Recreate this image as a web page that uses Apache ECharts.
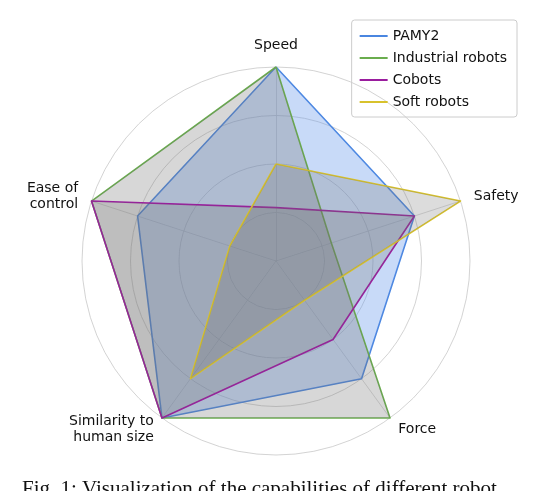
<!DOCTYPE html><html><head><meta charset="utf-8">
<script src="https://cdn.jsdelivr.net/npm/echarts@6/dist/echarts.min.js"></script>
<style>html,body{margin:0;padding:0;background:#fff}#c{width:544px;height:491px}</style></head><body><div id="c"></div>
<script>
const axes = ['Speed','Ease of\ncontrol','Similarity to\nhuman size','Force','Safety'];
const seriesNames = ['PAMY2','Industrial robots','Cobots','Soft robots'];
const pamy2 = [4,3,4,3,3];
const industrial = [4,4,4,4,1.2];
const cobots = [1.1,4,4,2,3];
const soft = [2,1,3,1,4];
const colors = ['#4a86e0','#6aad4e','#9a1d9e','#d8c22c'];
const fills = ['rgba(100,150,235,0.5)','rgba(110,110,110,0.4)','rgba(110,110,110,0.35)','rgba(110,110,110,0.35)'];
const vals = [pamy2, industrial, cobots, soft];
const chart = echarts.init(document.getElementById('c'));
chart.setOption({
  animation:false,
  legend:{orient:'vertical',right:27,top:20,itemWidth:28,itemHeight:2,icon:'rect',itemGap:8,
    padding:[9,10,8,8],borderColor:'#ccc',borderWidth:1,borderRadius:3,
    textStyle:{fontFamily:'DejaVu Sans',fontSize:14,color:'#111'},data:seriesNames},
  radar:{center:[276,261],radius:194,startAngle:90,splitNumber:4,shape:'circle',
    indicator:axes.map(n=>({name:n,max:4,min:0})),
    axisName:{color:'#111',fontFamily:'DejaVu Sans',fontSize:14,lineHeight:16},nameGap:14,
    splitLine:{lineStyle:{color:'#c8c8c8',width:0.8}},splitArea:{show:false},
    axisLine:{lineStyle:{color:'#d0d0d0',width:0.8}}},
  graphic:[{type:'text',left:22,top:479,style:{text:'Fig. 1: Visualization of the capabilities of different robot',font:'21px "Liberation Serif"',fill:'#111'}}],
  series:[{type:'radar',symbol:'none',data:vals.map((v,i)=>({name:seriesNames[i],value:v,
    lineStyle:{color:colors[i],width:1.6},itemStyle:{color:colors[i]},areaStyle:{color:fills[i]}}))}]
});
</script></body></html>
